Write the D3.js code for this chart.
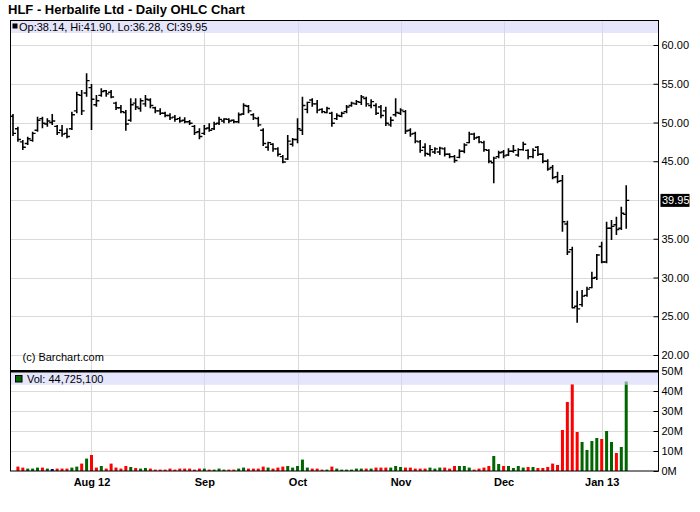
<!DOCTYPE html>
<html><head><meta charset="utf-8">
<script src="https://cdn.jsdelivr.net/npm/d3@7"></script>
<style>
body{margin:0;background:#fff;}
text{font-family:"Liberation Sans",Arial,sans-serif;}
</style>
</head><body>
<svg id="c" width="700" height="512"></svg>
<script>
// ---------- DATA ----------
const symbol = "HLF";
const title = "HLF - Herbalife Ltd - Daily OHLC Chart";
const startDate = "2012-07-10", endDate = "2013-01-09";
const holidays = ["2012-09-03","2012-10-29","2012-10-30","2012-11-22","2012-12-25","2013-01-01"];
const monthLabels = ["Aug 12","Sep","Oct","Nov","Dec","Jan 13"];

const opens = [50.8,49.2,47.5,47.3,47.7,49.0,50.5,49.8,50.0,49.5,
 49.0,48.6,49.2,51.5,53.5,53.8,54.5,52.3,53.5,54.1,
 53.9,52.5,51.9,51.3,50.3,52.5,51.8,52.4,52.9,51.9,
 51.5,51.2,50.9,50.7,50.5,50.3,50.1,49.5,48.8,48.6,
 49.3,49.2,49.9,50.2,50.4,50.3,50.1,51.1,52.1,51.0,
 50.5,49.0,46.8,47.2,46.6,45.6,45.3,47.2,47.8,49.0,
 51.7,52.9,52.4,51.7,51.3,51.2,50.5,50.8,51.4,52.2,
 52.4,52.6,53.1,52.2,52.2,52.0,51.5,49.7,51.0,51.2,
 51.4,49.0,48.6,47.5,46.8,45.9,46.2,46.2,46.6,45.9,
 45.6,45.5,46.3,47.4,48.5,48.1,47.4,46.4,44.8,45.6,
 46.2,45.8,46.3,45.8,46.5,46.4,45.6,46.8,45.9,45.0,
 44.2,43.0,42.5,36.9,33.6,26.3,26.5,27.7,28.7,30.0,
 34.0,32.0,36.35,36.8,36.35,38.14];
const highs = [51.1,49.46,47.74,48.17,48.82,50.75,50.75,50.54,51.1,49.68,
 49.68,49.25,51.4,53.98,54.2,56.34,54.97,53.55,54.41,54.2,
 54.2,52.69,52.26,51.61,53.12,53.12,53.12,53.55,53.12,52.04,
 51.83,51.4,51.18,50.97,50.75,50.67,50.32,49.68,49.25,49.68,
 49.89,50.11,50.75,50.54,50.54,50.4,51.3,52.47,52.26,51.18,
 50.75,49.25,47.53,47.31,46.8,45.81,48.39,48.0,50.54,53.33,
 52.69,53.12,52.9,51.83,52.04,51.4,51.18,51.4,52.26,52.69,
 52.9,53.55,53.33,52.99,52.47,52.26,52.04,50.75,53.12,51.83,
 51.61,49.25,48.82,47.74,47.31,47.1,46.8,46.88,46.8,46.02,
 45.81,46.54,47.31,48.82,48.69,48.26,47.66,46.54,45.59,46.37,
 46.45,46.67,47.1,46.67,47.53,46.54,46.67,46.97,46.02,45.25,
 44.52,43.66,43.23,37.33,33.98,28.3,28.39,28.82,30.75,33.03,
 34.62,37.2,37.42,37.85,39.14,41.9];
const lows = [48.26,47.53,46.45,47.1,47.53,48.82,49.25,49.46,49.68,48.39,
 48.17,47.96,49.03,51.18,50.97,53.33,49.03,52.04,53.33,53.33,
 53.12,51.61,51.18,48.95,50.11,51.61,51.4,52.04,51.83,51.18,
 50.97,50.67,50.32,50.11,49.98,49.89,49.68,48.39,47.83,48.39,
 48.82,49.03,49.68,49.89,49.89,49.9,49.9,50.97,51.18,50.32,
 49.46,46.97,46.37,46.24,45.6,44.73,45.16,46.9,47.31,48.39,
 51.18,52.04,51.18,51.18,51.18,49.46,50.32,50.67,51.18,52.04,
 52.26,52.26,52.04,51.83,50.97,50.54,49.55,49.46,50.75,50.97,
 48.52,48.17,47.31,46.1,45.6,45.6,45.94,45.81,45.6,45.38,
 44.82,45.38,46.02,47.31,47.74,47.31,46.24,44.73,42.15,45.38,
 45.38,45.68,46.1,45.59,46.37,45.25,45.38,45.68,44.73,43.79,
 42.67,42.15,35.91,32.9,26.02,24.17,26.24,27.53,28.6,29.68,
 31.83,31.83,34.84,35.48,36.13,36.28];
const closes = [48.6,47.8,46.8,47.9,48.6,50.3,49.9,50.2,50.2,48.7,
 48.5,48.2,51.0,53.6,51.5,55.4,53.0,52.8,54.0,53.7,
 53.3,51.9,51.4,49.8,52.3,52.0,52.8,53.0,52.2,51.5,
 51.2,50.9,50.6,50.4,50.2,50.1,49.9,48.7,48.2,49.2,
 49.0,49.8,50.4,50.45,50.2,50.1,51.0,52.2,51.5,50.6,
 49.7,47.3,47.4,46.6,45.9,44.9,47.6,47.8,49.2,52.2,
 52.6,52.4,51.6,51.4,51.8,49.9,50.9,51.2,52.0,52.5,
 52.7,53.3,52.4,52.7,51.2,50.9,49.9,50.3,51.3,51.6,
 48.9,48.5,47.6,46.4,46.0,46.5,46.6,46.7,45.9,45.6,
 45.1,46.3,47.1,48.5,48.0,47.5,46.5,45.0,45.4,46.1,
 45.7,46.3,46.4,46.5,47.2,45.6,46.4,45.9,45.0,44.0,
 42.9,42.4,37.2,33.3,26.1,25.95,27.6,28.5,29.9,32.9,
 32.0,36.35,36.6,36.2,38.3,39.95];
// volume in millions of shares (first bar not visible in the reference)
const volumes = [null,2.2,1.7,1.2,1.2,1.7,1.7,1.2,1.0,1.2,
 1.2,1.2,1.7,2.2,3.7,6.2,8.0,1.7,2.5,1.2,
 3.7,1.7,1.2,2.5,2.0,1.5,1.2,1.5,1.2,0.7,
 0.7,0.7,1.2,0.7,1.2,1.2,1.2,0.7,1.2,1.2,
 0.7,0.7,1.2,0.7,0.7,0.7,1.2,1.7,1.2,1.2,
 1.2,2.2,1.7,1.2,1.7,2.2,2.5,1.7,2.5,5.7,
 1.7,1.2,1.2,0.7,0.7,2.2,1.2,0.7,0.7,0.7,
 1.2,1.2,1.2,1.2,1.7,1.7,1.7,1.7,2.5,2.0,
 1.7,1.7,1.2,1.2,1.2,1.7,1.2,1.7,1.7,1.2,
 2.5,2.5,2.5,1.7,0.7,1.2,1.7,2.5,7.5,3.5,
 2.5,2.5,1.5,2.5,1.7,2.0,2.0,1.5,1.5,2.0,
 3.7,3.0,20.5,34.5,43.5,19.5,14.5,10.5,15,16.5,
 16,20,14.5,9,12,44.7251];
const lastVolume = "44,725,100";
const priceLabelTicks = [20,25,30,35,45,50,55,60];
const priceGridTicks = [20,25,30,35,40,45,50,55,60];
const volTicks = [0,10,20,30,40,50];

// ---------- trading calendar ----------
const fmt = d3.timeFormat("%Y-%m-%d");
const dates = [];
for (let d = new Date(startDate+"T12:00:00"); fmt(d) <= endDate; d.setDate(d.getDate()+1)) {
  const wd = d.getDay();
  if (wd === 0 || wd === 6 || holidays.includes(fmt(d))) continue;
  dates.push(new Date(d));
}
const monthIdx = [];
dates.forEach((d,i) => { if (i>0 && d.getMonth() !== dates[i-1].getMonth()) monthIdx.push(i); });

// ---------- layout ----------
const L = 10.5, R = 658.5, T = 20.5, SEP = 371.3, B = 471;
const svg = d3.select("#c");
const x = d3.scaleLinear().domain([-0.51, 131.58]).range([L, R]);
const yP = d3.scaleLinear().domain([20, 60]).range([355, 45]);
const yV = d3.scaleLinear().domain([0, 50]).range([B, 371]);
const grid = "#dadada";

// clip paths
const defs = svg.append("defs");
defs.append("clipPath").attr("id","cp").append("rect").attr("x",L).attr("y",T).attr("width",R-L).attr("height",SEP-T);
defs.append("clipPath").attr("id","cv").append("rect").attr("x",L).attr("y",SEP).attr("width",R-L).attr("height",B-SEP);

// gridlines
const g = svg.append("g");
g.selectAll(".hp").data(priceGridTicks).join("line")
  .attr("x1",L).attr("x2",R).attr("y1",d=>Math.round(yP(d))+0.5).attr("y2",d=>Math.round(yP(d))+0.5)
  .attr("stroke",grid);
g.selectAll(".hv").data(volTicks.slice(1,-1)).join("line")
  .attr("x1",L).attr("x2",R).attr("y1",d=>Math.round(yV(d))+0.5).attr("y2",d=>Math.round(yV(d))+0.5)
  .attr("stroke",grid);
g.selectAll(".vm").data(monthIdx).join("line")
  .attr("x1",d=>Math.round(x(d))+0.5).attr("x2",d=>Math.round(x(d))+0.5)
  .attr("y1",T).attr("y2",B).attr("stroke",grid);

// volume bars
const volColor = i => i===0 ? "#006600" : (closes[i] > closes[i-1] ? "#006600" : closes[i] < closes[i-1] ? "#ff0000" : "#000080");
svg.append("g").attr("clip-path","url(#cv)")
  .selectAll("rect").data(volumes.map((v,i)=>({v,i})).filter(d=>d.v!==null)).join("rect")
  .attr("x",d=>x(d.i)-1.5).attr("width",3)
  .attr("y",d=>yV(d.v)).attr("height",d=>yV(0)-yV(d.v))
  .attr("fill",d=>volColor(d.i));

// OHLC bars
const ohlc = svg.append("g").attr("clip-path","url(#cp)").attr("stroke","#000");
const data = dates.map((d,i)=>({i,o:opens[i],h:highs[i],l:lows[i],c:closes[i]}));
ohlc.selectAll(".hl").data(data).join("line")
  .attr("x1",d=>x(d.i)).attr("x2",d=>x(d.i)).attr("y1",d=>yP(d.h)).attr("y2",d=>yP(d.l))
  .attr("stroke-width",1.6);
ohlc.selectAll(".op").data(data).join("line")
  .attr("x1",d=>x(d.i)-3).attr("x2",d=>x(d.i)).attr("y1",d=>yP(d.o)).attr("y2",d=>yP(d.o))
  .attr("stroke-width",1.4);
ohlc.selectAll(".cl").data(data).join("line")
  .attr("x1",d=>x(d.i)).attr("x2",d=>x(d.i)+3).attr("y1",d=>yP(d.c)).attr("y2",d=>yP(d.c))
  .attr("stroke-width",1.4);

// header bands (semi-transparent)
const band = "rgb(212,212,248)";
svg.append("rect").attr("x",L).attr("y",T).attr("width",R-L).attr("height",12.5).attr("fill",band).attr("opacity",0.6);
svg.append("rect").attr("x",L).attr("y",SEP+1).attr("width",R-L).attr("height",12.5).attr("fill",band).attr("opacity",0.6);

// frame
const fr = svg.append("g").attr("stroke","#000").attr("fill","none");
fr.append("rect").attr("x",L).attr("y",T).attr("width",R-L).attr("height",B-T+0.5-T+T-0.5 - 0).attr("height",B-T);
fr.append("line").attr("x1",L).attr("x2",R).attr("y1",SEP).attr("y2",SEP).attr("stroke-width",2.5);

// axes
const axP = d3.axisRight(yP).tickValues(priceLabelTicks).tickFormat(d3.format(".2f")).tickSizeInner(-5).tickSizeOuter(0).tickPadding(3);
const gp = svg.append("g").attr("transform",`translate(${R},0)`).call(axP);
const axV = d3.axisRight(yV).tickValues(volTicks).tickFormat(d=>d+"M").tickSizeInner(-5).tickSizeOuter(0).tickPadding(3);
const gv = svg.append("g").attr("transform",`translate(${R},0)`).call(axV);
const axX = d3.axisBottom(x).tickValues(monthIdx).tickFormat((d,k)=>monthLabels[k]).tickSize(0).tickPadding(7);
const gx = svg.append("g").attr("transform",`translate(0,${B})`).call(axX);
[gp,gv,gx].forEach(a=>{ a.select(".domain").remove(); a.selectAll("text").attr("font-family","Liberation Sans, Arial, sans-serif").attr("font-size",11).attr("fill","#000"); a.selectAll("line").attr("stroke","#000"); });
gx.selectAll("text").attr("font-weight","bold");

// last price label
const lastC = closes[closes.length-1];
svg.append("rect").attr("x",R+2).attr("y",yP(lastC)-6.5).attr("width",29).attr("height",13).attr("fill","#000");
svg.append("text").attr("x",R+3.5).attr("y",yP(lastC)+4).attr("font-size",11).attr("fill","#fff").text(lastC.toFixed(2));

// title
svg.append("text").attr("x",8).attr("y",14).attr("font-size",13).attr("font-weight","bold").text(title);

// price header legend
svg.append("rect").attr("x",12.5).attr("y",23.5).attr("width",5).attr("height",5).attr("fill","#000");
const last = closes.length-1;
svg.append("text").attr("x",19).attr("y",30.5).attr("font-size",11)
  .text(`Op:${opens[last].toFixed(2)}, Hi:${highs[last].toFixed(2)}, Lo:${lows[last].toFixed(2)}, Cl:${closes[last].toFixed(2)}`);

// volume header legend
svg.append("rect").attr("x",15.5).attr("y",375.5).attr("width",6.5).attr("height",6.5).attr("fill","#006600").attr("stroke","#000");
svg.append("text").attr("x",27).attr("y",382.5).attr("font-size",11).text(`Vol: ${lastVolume}`);

// copyright
svg.append("text").attr("x",22.5).attr("y",361).attr("font-size",11).text("(c) Barchart.com");
</script>
</body></html>
